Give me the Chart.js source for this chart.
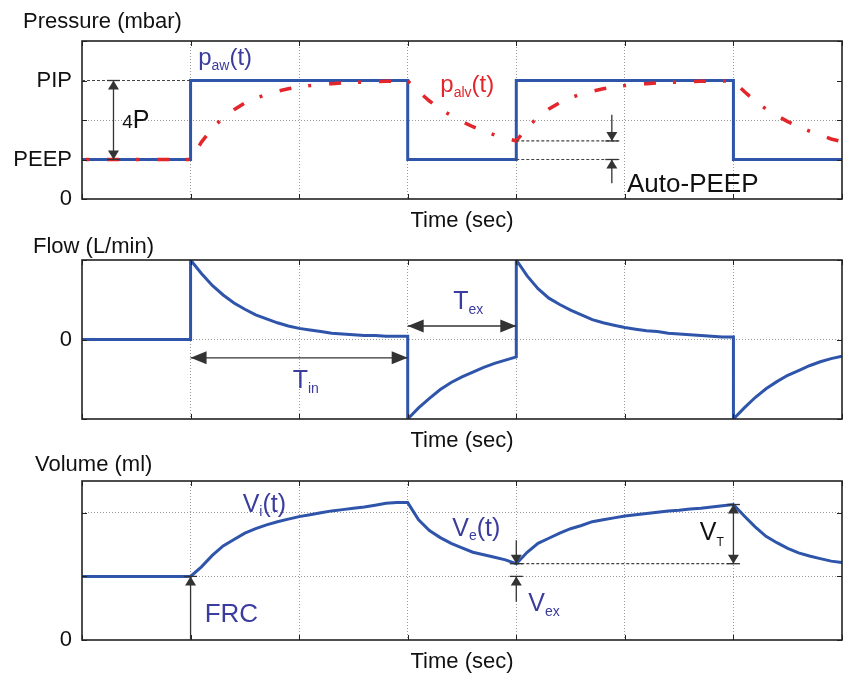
<!DOCTYPE html>
<html>
<head>
<meta charset="utf-8">
<script src="https://cdn.jsdelivr.net/npm/chart.js@4.4.1/dist/chart.umd.min.js"></script>
<style>
  body { margin: 0; background: #fff; }
  #wrap { position: relative; width: 843px; height: 676px; }
  #wrap canvas { position: absolute; left: 0; }
</style>
</head>
<body>
<div id="wrap">
  <canvas id="pressureChart" width="843" height="235" style="top:0px"></canvas>
  <canvas id="flowChart" width="843" height="230" style="top:225px"></canvas>
  <canvas id="volumeChart" width="843" height="226" style="top:450px"></canvas>
</div>
<script>
// airway pressure (set by the ventilator): square wave PEEP / PIP
var pawTime  = [0, 1, 1, 3, 3, 4, 4, 6, 6, 7];
var pawValue = [1, 1, 3, 3, 1, 1, 3, 3, 1, 1];

// shared sample times for alveolar pressure and volume
var sampleTime = [0,
  1.0, 1.1, 1.2, 1.3, 1.4, 1.5, 1.6, 1.7, 1.8, 1.9, 2.0, 2.1, 2.2, 2.3, 2.4, 2.5, 2.6, 2.7, 2.8, 2.9, 3.0,
  3.1, 3.2, 3.3, 3.4, 3.5, 3.6, 3.7, 3.8, 3.9, 4.0,
  4.1, 4.2, 4.3, 4.4, 4.5, 4.6, 4.7, 4.8, 4.9, 5.0, 5.1, 5.2, 5.3, 5.4, 5.5, 5.6, 5.7, 5.8, 5.9, 6.0,
  6.1, 6.2, 6.3, 6.4, 6.5, 6.6, 6.7, 6.8, 6.9, 7.0];

var palvValue = [1.00,
  1.00, 1.44, 1.79, 2.06, 2.26, 2.43, 2.55, 2.65, 2.73, 2.79, 2.84, 2.87, 2.90, 2.92, 2.94, 2.95, 2.96, 2.97, 2.98, 2.98, 2.99,
  2.72, 2.48, 2.28, 2.11, 1.96, 1.83, 1.72, 1.62, 1.54, 1.47,
  1.81, 2.07, 2.28, 2.44, 2.56, 2.66, 2.73, 2.79, 2.84, 2.87, 2.90, 2.92, 2.94, 2.95, 2.96, 2.97, 2.98, 2.98, 2.99, 2.99,
  2.72, 2.48, 2.28, 2.11, 1.96, 1.83, 1.72, 1.62, 1.52, 1.45];

var volumeValue = [1.00,
  1.00, 1.15, 1.33, 1.48, 1.58, 1.68, 1.75, 1.81, 1.86, 1.90, 1.94, 1.97, 2.00, 2.03, 2.05, 2.07, 2.09, 2.12, 2.15, 2.16, 2.16,
  1.89, 1.72, 1.61, 1.52, 1.45, 1.38, 1.34, 1.30, 1.26, 1.20,
  1.38, 1.52, 1.60, 1.68, 1.75, 1.80, 1.86, 1.89, 1.92, 1.95, 1.97, 1.99, 2.01, 2.03, 2.04, 2.06, 2.07, 2.09, 2.11, 2.13,
  1.95, 1.78, 1.63, 1.53, 1.44, 1.37, 1.32, 1.28, 1.24, 1.22];

// flow jumps at every valve switch, so the switch times appear twice
var flowTime = [0, 1,
  1.0, 1.1, 1.2, 1.3, 1.4, 1.5, 1.6, 1.7, 1.8, 1.9, 2.0, 2.1, 2.2, 2.3, 2.4, 2.5, 2.6, 2.7, 2.8, 2.9, 3.0,
  3.0, 3.1, 3.2, 3.3, 3.4, 3.5, 3.6, 3.7, 3.8, 3.9, 4.0,
  4.0, 4.1, 4.2, 4.3, 4.4, 4.5, 4.6, 4.7, 4.8, 4.9, 5.0, 5.1, 5.2, 5.3, 5.4, 5.5, 5.6, 5.7, 5.8, 5.9, 6.0,
  6.0, 6.1, 6.2, 6.3, 6.4, 6.5, 6.6, 6.7, 6.8, 6.9, 7.0];
var flowValue = [0, 0,
  1.00, 0.83, 0.68, 0.56, 0.46, 0.38, 0.31, 0.26, 0.21, 0.17, 0.14, 0.12, 0.10, 0.08, 0.07, 0.06, 0.05, 0.05, 0.04, 0.04, 0.04,
  -1.00, -0.86, -0.74, -0.63, -0.54, -0.47, -0.41, -0.35, -0.30, -0.26, -0.22,
  1.00, 0.80, 0.64, 0.52, 0.44, 0.37, 0.31, 0.25, 0.21, 0.18, 0.15, 0.13, 0.11, 0.10, 0.08, 0.07, 0.06, 0.05, 0.04, 0.03, 0.03,
  -1.00, -0.86, -0.73, -0.62, -0.53, -0.45, -0.39, -0.33, -0.28, -0.24, -0.21];

// y axis ticks and their labels
var pressureTicks = [0, 1, 2, 3, 4];
var pressureLabels = ['0', 'PEEP', '', 'PIP', ''];
var flowTicks = [-1, 0, 1];
var flowLabels = ['', '0', ''];
var volumeTicks = [0, 1, 2];
var volumeLabels = ['0', '', ''];

var FONT = '"Liberation Sans", Arial, Helvetica, sans-serif';
var BLUE = '#2f55ab';
var RED = '#e2262b';
var TEXT_BLUE = '#3a3c9e';
var INK = '#333';

function points(xs, ys) {
  return xs.map(function (x, i) { return { x: x, y: ys[i] }; });
}

function toPx(chart, p) {
  return [chart.scales.x.getPixelForValue(p[0]), chart.scales.y.getPixelForValue(p[1])];
}

function drawHead(ctx, tx, ty, dx, dy, len, half, bar) {
  var nx = -dy, ny = dx;
  ctx.beginPath();
  ctx.moveTo(tx, ty);
  ctx.lineTo(tx - dx * len + nx * half, ty - dy * len + ny * half);
  ctx.lineTo(tx - dx * len - nx * half, ty - dy * len - ny * half);
  ctx.closePath();
  ctx.fill();
  if (bar) {
    ctx.beginPath();
    ctx.moveTo(tx + nx * (half + 1), ty + ny * (half + 1));
    ctx.lineTo(tx - nx * (half + 1), ty - ny * (half + 1));
    ctx.stroke();
  }
}

// frame, inward tick marks and the text / arrow notes of each panel
var notesPlugin = {
  id: 'notes',
  afterDraw: function (chart) {
    var ctx = chart.ctx, a = chart.chartArea;
    var notes = chart.options.plugins.notes.items;
    ctx.save();

    ctx.strokeStyle = '#222';
    ctx.lineWidth = 1;
    chart.scales.x.ticks.forEach(function (t) {
      var x = Math.round(chart.scales.x.getPixelForValue(t.value)) + 0.5;
      ctx.beginPath();
      ctx.moveTo(x, a.top); ctx.lineTo(x, a.top + 5);
      ctx.moveTo(x, a.bottom); ctx.lineTo(x, a.bottom - 5);
      ctx.stroke();
    });
    chart.scales.y.ticks.forEach(function (t) {
      var y = Math.round(chart.scales.y.getPixelForValue(t.value)) + 0.5;
      ctx.beginPath();
      ctx.moveTo(a.left, y); ctx.lineTo(a.left + 5, y);
      ctx.moveTo(a.right, y); ctx.lineTo(a.right - 5, y);
      ctx.stroke();
    });
    ctx.lineWidth = 1.6;
    ctx.strokeRect(a.left, a.top, a.right - a.left, a.bottom - a.top);

    notes.forEach(function (n) {
      if (n.type === 'heading') {
        ctx.font = '22px ' + FONT;
        ctx.fillStyle = '#111';
        ctx.textBaseline = 'alphabetic';
        ctx.fillText(n.text, n.left, n.base);
      } else if (n.type === 'dash') {
        var p = toPx(chart, n.from), q = toPx(chart, n.to);
        ctx.strokeStyle = '#444';
        ctx.lineWidth = 1.2;
        ctx.setLineDash([3, 2]);
        ctx.beginPath();
        ctx.moveTo(p[0], p[1]); ctx.lineTo(q[0], q[1]);
        ctx.stroke();
        ctx.setLineDash([]);
      } else if (n.type === 'arrow') {
        var s = toPx(chart, n.from), e = toPx(chart, n.to);
        var dx = e[0] - s[0], dy = e[1] - s[1], d = Math.sqrt(dx * dx + dy * dy);
        dx /= d; dy /= d;
        ctx.strokeStyle = INK;
        ctx.fillStyle = INK;
        ctx.lineWidth = 1.3;
        ctx.beginPath();
        ctx.moveTo(s[0], s[1]); ctx.lineTo(e[0], e[1]);
        ctx.stroke();
        drawHead(ctx, e[0], e[1], dx, dy, n.len, n.half, n.bar);
        if (n.both) drawHead(ctx, s[0], s[1], -dx, -dy, n.len, n.half, n.bar);
      } else if (n.type === 'text') {
        var at = toPx(chart, n.at), x = at[0];
        ctx.fillStyle = n.color;
        ctx.textBaseline = 'alphabetic';
        n.parts.forEach(function (part) {
          ctx.font = part[1] + 'px ' + FONT;
          ctx.fillText(part[0], x, at[1] + (part[2] || 0));
          x += ctx.measureText(part[0]).width;
        });
      }
    });
    ctx.restore();
  }
};

function makePanel(id, padTop, datasets, yMin, yMax, tickValues, tickLabels, gridAt, notes) {
  return new Chart(document.getElementById(id), {
    type: 'line',
    data: { datasets: datasets },
    options: {
      responsive: false,
      animation: false,
      devicePixelRatio: 1,
      layout: { padding: { top: padTop, right: 1, left: 0, bottom: 0 } },
      elements: { point: { radius: 0 }, line: { tension: 0, borderJoinStyle: 'miter' } },
      plugins: { legend: { display: false }, tooltip: { enabled: false }, notes: { items: notes } },
      scales: {
        x: {
          type: 'linear', min: 0, max: 7,
          ticks: { display: false, stepSize: 1 },
          grid: {
            drawTicks: false,
            color: function (c) { return c.tick && c.tick.value > 0 && c.tick.value < 7 ? '#9a9a9a' : 'rgba(0,0,0,0)'; }
          },
          border: { display: false, dash: [1, 2] },
          title: {
            display: true, text: 'Time (sec)', color: '#111',
            font: { family: FONT, size: 22, lineHeight: 1 },
            padding: { top: 11, bottom: 3 }
          }
        },
        y: {
          min: yMin, max: yMax,
          afterBuildTicks: function (axis) {
            axis.ticks = tickValues.map(function (v) { return { value: v }; });
          },
          afterFit: function (axis) { axis.width = 82; },
          ticks: {
            padding: 10, color: '#111',
            font: { family: FONT, size: 22 },
            callback: function (v, i) { return tickLabels[i]; }
          },
          grid: {
            drawTicks: false,
            color: function (c) { return c.tick && gridAt.indexOf(c.tick.value) >= 0 ? '#9a9a9a' : 'rgba(0,0,0,0)'; }
          },
          border: { display: false, dash: [1, 2] }
        }
      }
    },
    plugins: [notesPlugin]
  });
}

makePanel('pressureChart', 41, [
  { data: points(sampleTime, palvValue), borderColor: RED, borderWidth: 3.5,
    borderDash: [12, 17, 3, 18], borderDashOffset: 25, order: 0 },
  { data: points(pawTime, pawValue), borderColor: BLUE, borderWidth: 3, order: 1 }
], 0, 4, pressureTicks, pressureLabels, [2], [
  { type: 'heading', text: 'Pressure (mbar)', left: 23, base: 28 },
  { type: 'dash', from: [0, 3], to: [1, 3] },
  { type: 'dash', from: [4, 1.47], to: [4.95, 1.47] },
  { type: 'dash', from: [4, 1], to: [4.95, 1] },
  { type: 'arrow', from: [0.29, 1], to: [0.29, 3], both: true, bar: true, len: 9, half: 5.5 },
  { type: 'arrow', from: [4.88, 2.13], to: [4.88, 1.47], bar: true, len: 9, half: 5.5 },
  { type: 'arrow', from: [4.88, 0.4], to: [4.88, 1], bar: true, len: 9, half: 5.5 },
  { type: 'text', at: [0.37, 1.8], color: '#111', parts: [['4', 19], ['P', 25]] },
  { type: 'text', at: [1.07, 3.39], color: TEXT_BLUE, parts: [['p', 24], ['aw', 14, 5], ['(t)', 24]] },
  { type: 'text', at: [3.3, 2.71], color: RED, parts: [['p', 24], ['alv', 14, 5], ['(t)', 24]] },
  { type: 'text', at: [5.02, 0.18], color: '#111', parts: [['Auto-PEEP', 26]] }
]);

makePanel('flowChart', 35, [
  { data: points(flowTime, flowValue), borderColor: BLUE, borderWidth: 3 }
], -1, 1, flowTicks, flowLabels, [0], [
  { type: 'heading', text: 'Flow (L/min)', left: 33, base: 28.3 },
  { type: 'arrow', from: [1, -0.23], to: [3, -0.23], both: true, len: 16, half: 6.5 },
  { type: 'arrow', from: [3, 0.17], to: [4, 0.17], both: true, len: 16, half: 6.5 },
  { type: 'text', at: [1.94, -0.61], color: TEXT_BLUE, parts: [['T', 25], ['in', 14, 5]] },
  { type: 'text', at: [3.42, 0.38], color: TEXT_BLUE, parts: [['T', 25], ['ex', 14, 5]] }
]);

makePanel('volumeChart', 31, [
  { data: points(sampleTime, volumeValue), borderColor: BLUE, borderWidth: 3 }
], 0, 2.5, volumeTicks, volumeLabels, [1, 2], [
  { type: 'heading', text: 'Volume (ml)', left: 35, base: 20.7 },
  { type: 'dash', from: [4, 1.2], to: [6, 1.2] },
  { type: 'arrow', from: [1, 0], to: [1, 1], bar: true, len: 9, half: 5.5 },
  { type: 'arrow', from: [4, 1.57], to: [4, 1.2], bar: true, len: 9, half: 5.5 },
  { type: 'arrow', from: [4, 0.6], to: [4, 1], bar: true, len: 9, half: 5.5 },
  { type: 'arrow', from: [6, 1.2], to: [6, 2.13], both: true, bar: true, len: 9, half: 5.5 },
  { type: 'text', at: [1.48, 2.02], color: TEXT_BLUE, parts: [['V', 25], ['i', 14, 4], ['(t)', 25]] },
  { type: 'text', at: [1.13, 0.29], color: TEXT_BLUE, parts: [['FRC', 26]] },
  { type: 'text', at: [3.41, 1.63], color: TEXT_BLUE, parts: [['V', 25], ['e', 14, 4], ['(t)', 25]] },
  { type: 'text', at: [4.11, 0.45], color: TEXT_BLUE, parts: [['V', 25], ['ex', 14, 5]] },
  { type: 'text', at: [5.69, 1.57], color: '#111', parts: [['V', 25], ['T', 12, 6]] }
]);
</script>
</body>
</html>
